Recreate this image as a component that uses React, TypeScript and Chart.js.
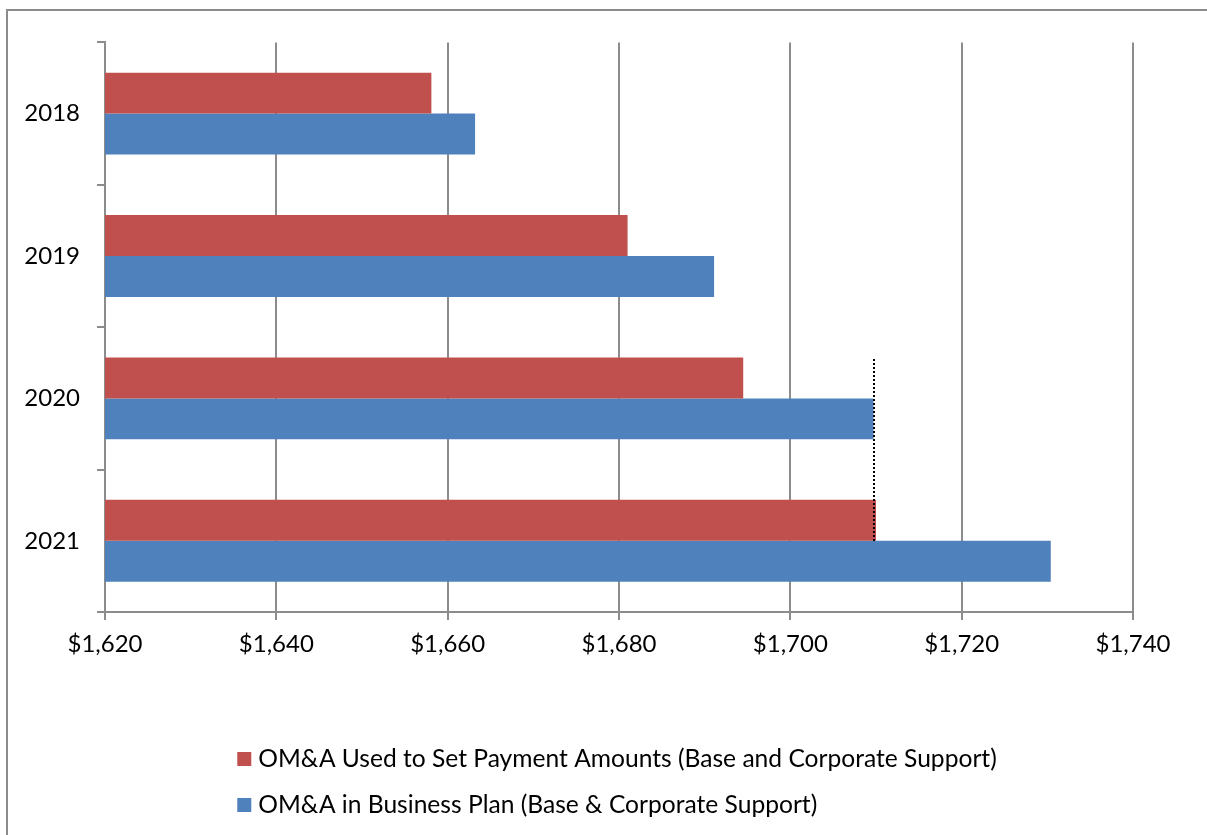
import { useEffect, useRef } from "react";
import { Chart, registerables } from "chart.js";

Chart.register(...registerables);

const categories = ["2018", "2019", "2020", "2021"];
const seriesLabels = [
  "OM&A Used to Set Payment Amounts (Base and Corporate Support)",
  "OM&A in Business Plan (Base & Corporate Support)",
];
const usedToSetPayment = [1658.1, 1681.0, 1694.5, 1710.0];
const businessPlan = [1663.2, 1691.1, 1709.7, 1730.4];
const seriesColors = ["#C0504D", "#4F81BD"];
const xMin = 1620;
const xMax = 1740;
const xStep = 20;
const refLineValue = 1709.8;

const FONT = "Lato, 'Open Sans', sans-serif";
const GRID = "#8c8c8c";

const refLinePlugin = {
  id: "refLine",
  afterDatasetsDraw(chart: any) {
    const meta = chart.getDatasetMeta(0);
    const a = meta.data[2];
    const b = meta.data[3];
    if (!a || !b) return;
    const y1 = Math.round(a.y - a.height / 2 + 2);
    const y2 = Math.round(b.y + b.height / 2);
    const x = Math.round(chart.scales.x.getPixelForValue(refLineValue));
    const ctx = chart.ctx;
    ctx.save();
    ctx.setLineDash([2, 2]);
    ctx.lineWidth = 2;
    ctx.strokeStyle = "#000";
    ctx.beginPath();
    ctx.moveTo(x, y1);
    ctx.lineTo(x, y2);
    ctx.stroke();
    ctx.restore();
  },
};

const customLegendPlugin = {
  id: "customLegend",
  afterDraw(chart: any) {
    const ctx = chart.ctx;
    const area = chart.chartArea;
    const xs = chart.scales.x;
    ctx.save();
    ctx.font = `24.6px ${FONT}`;
    const box = 14;
    const gap = 7;
    const widths = chart.data.datasets.map((d: any) => ctx.measureText(d.label).width);
    const maxW = Math.max(...widths) + box + gap;
    const startX = (area.left + area.right) / 2 - maxW / 2 - 2;
    const firstY = xs.bottom + 87;
    const rowGap = 46;
    chart.data.datasets.forEach((d: any, i: number) => {
      const cy = firstY + i * rowGap;
      ctx.fillStyle = d.backgroundColor;
      ctx.fillRect(startX, cy - box / 2, box, box);
      ctx.fillStyle = "#000";
      ctx.textBaseline = "middle";
      ctx.textAlign = "left";
      ctx.fillText(d.label, startX + box + gap, cy);
    });
    ctx.restore();
  },
};

export default function App() {
  const ref = useRef<HTMLCanvasElement>(null);
  useEffect(() => {
    if (!ref.current) return;
    const chart = new Chart(ref.current, {
      type: "bar",
      data: {
        labels: categories,
        datasets: [
          {
            label: seriesLabels[0],
            data: usedToSetPayment,
            backgroundColor: seriesColors[0],
            borderWidth: 0,
            categoryPercentage: 0.575,
            barPercentage: 1,
          },
          {
            label: seriesLabels[1],
            data: businessPlan,
            backgroundColor: seriesColors[1],
            borderWidth: 0,
            categoryPercentage: 0.575,
            barPercentage: 1,
          },
        ],
      },
      options: {
        indexAxis: "y",
        responsive: false,
        animation: false,
        devicePixelRatio: 1,
        layout: { padding: { left: 0, top: 31, right: 111, bottom: 205 } },
        plugins: {
          legend: { display: false },
          tooltip: { enabled: false },
        },
        scales: {
          x: {
            type: "linear",
            min: xMin,
            max: xMax,
            ticks: {
              stepSize: xStep,
              color: "#000",
              font: { family: FONT, size: 24 },
              padding: 10,
              callback: (v: any) => "$" + Number(v).toLocaleString("en-US"),
            },
            grid: { color: GRID, lineWidth: 2, tickLength: 8 },
            border: { display: true, color: GRID, width: 2 },
            afterFit: (s: any) => {
              s.height = 60;
            },
          },
          y: {
            ticks: {
              color: "#000",
              font: { family: FONT, size: 24 },
              padding: 17,
            },
            grid: { drawOnChartArea: false, color: GRID, lineWidth: 2, tickLength: 8, offset: true },
            border: { display: true, color: GRID, width: 2 },
            afterFit: (s: any) => {
              s.width = 97;
            },
          },
        },
      },
      plugins: [refLinePlugin, customLegendPlugin],
    });
    return () => chart.destroy();
  }, []);

  return (
    <div style={{ position: "fixed", inset: 0, overflow: "hidden", background: "#fff" }}>
      <div
        style={{
          position: "absolute",
          left: 6,
          top: 9,
          width: 1260,
          height: 880,
          border: `2px solid ${GRID}`,
          boxSizing: "border-box",
        }}
      >
        <canvas ref={ref} width={1236} height={866} style={{ position: "absolute", left: 0, top: 0 }} />
      </div>
    </div>
  );
}
